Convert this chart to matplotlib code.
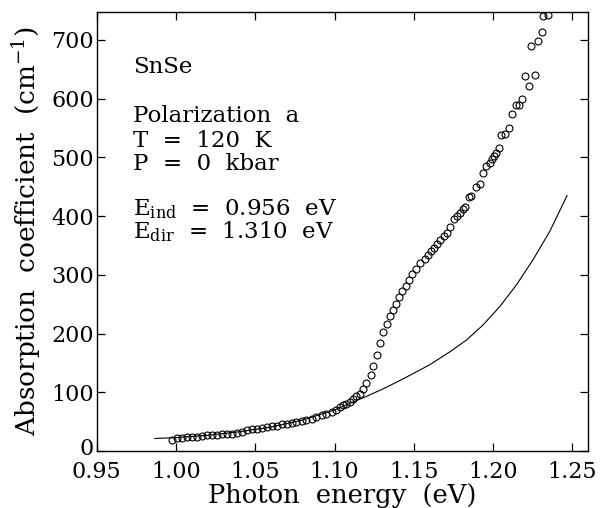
import matplotlib
matplotlib.use("Agg")
import matplotlib.pyplot as plt
import matplotlib.transforms as mtransforms

plt.rcParams['font.family'] = ['DejaVu Serif']
plt.rcParams['mathtext.fontset'] = 'dejavuserif'

# measured points (photon energy in eV, absorption coefficient in cm^-1)
energy = [0.9973, 1.0004, 1.0036, 1.0067, 1.0099, 1.0130, 1.0162, 1.0193, 1.0225, 1.0256,
          1.0288, 1.0319, 1.0351, 1.0382, 1.0414, 1.0445, 1.0477, 1.0508, 1.0540, 1.0571,
          1.0603, 1.0634, 1.0666, 1.0697, 1.0729, 1.0760, 1.0792, 1.0823, 1.0855, 1.0886,
          1.0918, 1.0949, 1.0981, 1.1012, 1.1033, 1.1054, 1.1075, 1.1096, 1.1117, 1.1138,
          1.1159, 1.1180, 1.1200, 1.1227, 1.1243, 1.1265, 1.1285, 1.1306, 1.1328, 1.1349,
          1.1366, 1.1386, 1.1407, 1.1428, 1.1449, 1.1470, 1.1491, 1.1512, 1.1538, 1.1569,
          1.1590, 1.1605, 1.1624, 1.1647, 1.1668, 1.1689, 1.1710, 1.1731, 1.1752, 1.1769,
          1.1790, 1.1807, 1.1821, 1.1848, 1.1863, 1.1891, 1.1916, 1.1937, 1.1958, 1.1979,
          1.1993, 1.2006, 1.2021, 1.2037, 1.2052, 1.2073, 1.2100, 1.2119, 1.2143, 1.2163,
          1.2182, 1.2204, 1.2225, 1.2241, 1.2267, 1.2283, 1.2305, 1.2315, 1.2346]
alpha = [19.5, 21.6, 22.6, 23.2, 24.2, 24.2, 25.4, 27.0, 27.0, 28.0,
         28.6, 29.7, 29.7, 31.4, 32.5, 35.3, 37.5, 38.1, 39.2, 40.9,
         42.0, 43.2, 45.4, 46.6, 48.3, 49.4, 51.1, 53.4, 55.1, 57.9,
         60.8, 63.6, 66.4, 70.4, 75.0, 77.7, 80.6, 83.4, 88.0, 93.0,
         97.6, 106, 116, 130, 145, 164, 184, 202, 216, 230,
         240, 251, 263, 273, 281, 291, 302, 310, 321, 327,
         334, 340, 345, 353, 360, 366, 372, 382, 395, 400,
         406, 412, 416, 432, 435, 450, 455, 473, 485, 491,
         497, 502, 507, 516, 538, 540, 550, 574, 590, 590,
         599, 638, 622, 690, 641, 698, 714, 740, 743]

# fitted curve
fit_energy = [0.9867, 1.00, 1.02, 1.04, 1.06, 1.08, 1.10, 1.1096, 1.12, 1.1306,
              1.14, 1.1517, 1.16, 1.1727, 1.1832, 1.1937, 1.2042, 1.2147, 1.2252, 1.2357,
              1.2466]
fit_alpha = [21.5, 23.0, 27.0, 33.0, 41.0, 53.0, 70.0, 81.3, 93.0, 106.0,
             118.5, 135, 147, 169, 189, 215, 246, 283, 326, 374,
             435]

fig = plt.figure(figsize=(6.08, 5.08), dpi=100)
ax = fig.add_axes([0.159, 0.112, 0.8086, 0.865])

ax.plot(fit_energy, fit_alpha, color='black', linewidth=0.8)
ax.plot(energy, alpha, linestyle='none', marker='o', markersize=5,
        markerfacecolor='none', markeredgecolor='black', markeredgewidth=0.8)

ax.set_xlim(0.95, 1.26)
ax.set_ylim(0, 748)
ax.set_xticks([0.95, 1.00, 1.05, 1.10, 1.15, 1.20, 1.25])
ax.set_xticklabels(['0.95', '1.00', '1.05', '1.10', '1.15', '1.20', '1.25'])
ax.set_yticks([0, 100, 200, 300, 400, 500, 600, 700])

ax.tick_params(direction='in', length=6, width=0.9, top=True, right=True,
               labelsize=16)
ax.tick_params(axis='x', pad=7)
ax.tick_params(axis='y', pad=2)
for s in ax.spines.values():
    s.set_linewidth(1.0)

# lift the "0" label a little so it clears "0.95"
zero_lab = ax.yaxis.get_major_ticks()[0].label1
zero_lab.set_transform(zero_lab.get_transform() +
                       mtransforms.ScaledTranslation(0, 3 / 72, fig.dpi_scale_trans))

ax.set_xlabel('Photon  energy  (eV)', fontsize=18.5, labelpad=0)
ax.set_ylabel('Absorption  coefficient  (cm$^{-1}$)', fontsize=19, labelpad=6)

lines = [('SnSe', 0.860),
         ('Polarization  a', 0.749),
         ('T  =  120  K', 0.692),
         ('P  =  0  kbar', 0.640),
         (r'E$_{\rm ind}$  =  0.956  eV', 0.537),
         (r'E$_{\rm dir}$  =  1.310  eV', 0.485)]
for txt, yy in lines:
    ax.text(0.074, yy, txt, transform=ax.transAxes, fontsize=16.5,
            ha='left', va='baseline')

fig.savefig('out.png', dpi=100)
